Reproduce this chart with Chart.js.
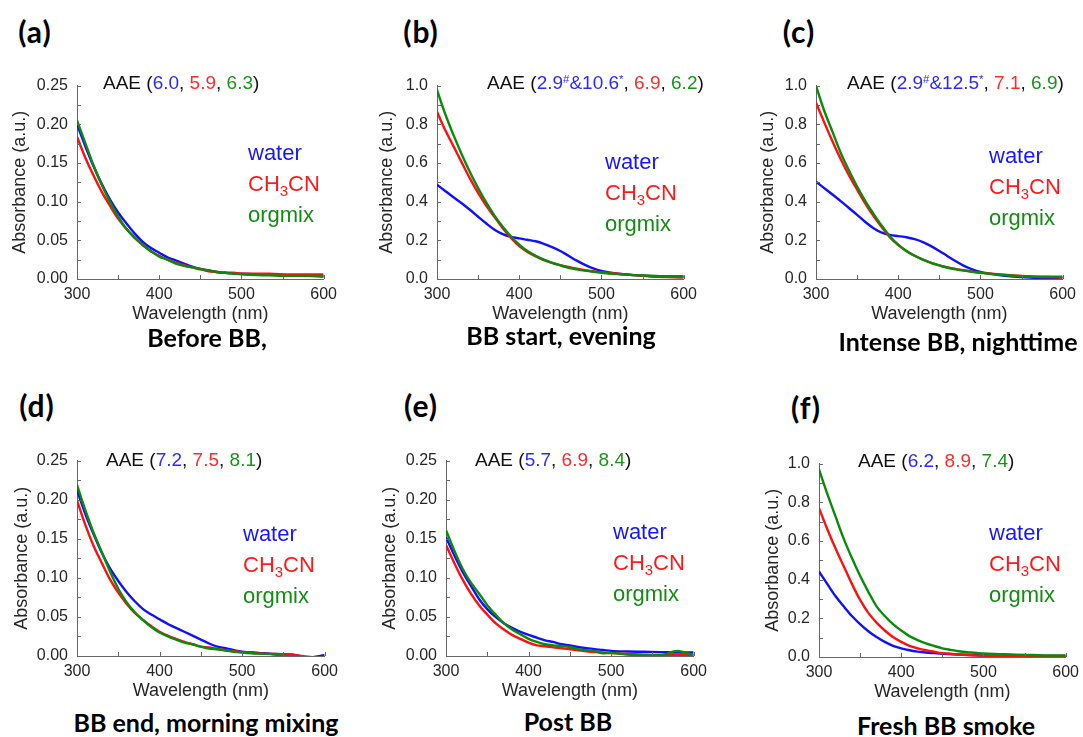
<!DOCTYPE html>
<html>
<head>
<meta charset="utf-8">
<script src="https://cdn.jsdelivr.net/npm/chart.js@4.4.0/dist/chart.umd.min.js"></script>
<style>
html, body { margin: 0; padding: 0; background: #fff; }
#fig { position: relative; width: 1083px; height: 737px; overflow: hidden; font-family: "Liberation Sans", Arial, sans-serif; }
canvas { position: absolute; }
.lab { position: absolute; width: 70px; text-align: center; font: 700 30px/30px Lato, sans-serif; letter-spacing: 1px; color: #000; }
.ttl { position: absolute; width: 360px; text-align: center; font: 700 25px/30px Lato, sans-serif; color: #000; white-space: nowrap; }
.aae { position: absolute; font-size: 19px; line-height: 19px; color: #111; white-space: nowrap; }
.leg { position: absolute; font-size: 22px; line-height: 31px; white-space: nowrap; }
sub { font-size: 0.68em; vertical-align: -0.32em; line-height: 0; }
sup { font-size: 0.6em; vertical-align: 0.55em; line-height: 0; }
</style>
</head>
<body>
<div id="fig"></div>
<script>
// wavelength grid (nm)
const wavelength = [300,310,320,330,340,350,360,370,380,390,400,410,420,430,440,450,460,470,480,490,500,520,540,560,580,600];

// (a) Before BB
const aWater  = [.200,.172,.146,.123,.103,.086,.072,.059,.048,.040,.034,.028,.024,.020,.016,.013,.011,.009,.008,.007,.0067,.006,.0055,.005,.004,.003];
const aCH3CN  = [.184,.157,.134,.113,.095,.078,.065,.053,.044,.036,.030,.025,.021,.018,.015,.013,.010,.009,.008,.008,.007,.007,.0065,.006,.006,.006];
const aOrgmix = [.205,.176,.147,.122,.100,.081,.065,.054,.044,.036,.029,.025,.020,.017,.015,.0125,.011,.009,.008,.007,.006,.005,.0045,.004,.004,.004];

// (b) BB start, evening
const bWater  = [.487,.455,.423,.392,.358,.322,.287,.255,.232,.218,.210,.203,.195,.182,.165,.145,.120,.095,.073,.055,.042,.027,.020,.015,.012,.010];
const bCH3CN  = [.865,.770,.687,.603,.520,.445,.378,.320,.262,.212,.170,.140,.117,.098,.083,.072,.062,.053,.045,.040,.035,.027,.020,.013,.010,.008];
const bOrgmix = [.978,.853,.745,.645,.553,.470,.395,.328,.270,.220,.178,.145,.120,.100,.083,.070,.058,.050,.043,.037,.032,.025,.020,.017,.014,.015];

// (c) Intense BB, nighttime
const cWater  = [.503,.470,.437,.403,.367,.332,.295,.263,.240,.228,.222,.216,.206,.191,.170,.145,.118,.092,.068,.050,.037,.022,.012,.007,.005,.007];
const cCH3CN  = [.912,.810,.712,.620,.537,.462,.390,.325,.267,.215,.175,.145,.120,.100,.083,.070,.060,.052,.045,.038,.033,.025,.018,.013,.010,.008];
const cOrgmix = [.998,.870,.762,.653,.562,.478,.403,.337,.275,.220,.178,.145,.120,.100,.083,.070,.058,.050,.043,.037,.032,.023,.017,.013,.012,.012];

// (d) BB end, morning mixing
const dWater  = [.212,.182,.156,.132,.112,.096,.082,.070,.060,.053,.047,.041,.036,.031,.026,.021,.016,.012,.010,.0075,.0055,.004,.0025,.002,-.002,.001];
const dCH3CN  = [.199,.168,.141,.119,.098,.081,.067,.055,.046,.038,.031,.026,.022,.018,.015,.012,.011,.009,.0075,.006,.005,.0033,.0025,.0017,-.001,-.003];
const dOrgmix = [.219,.187,.158,.133,.108,.086,.069,.056,.046,.037,.030,.025,.021,.017,.015,.012,.0095,.0087,.007,.0054,.0045,.003,.002,-.001,-.003,-.003];

// (e) Post BB
const eWater  = [.152,.129,.108,.090,.073,.060,.050,.042,.036,.031,.027,.0235,.020,.018,.015,.0136,.0115,.010,.0087,.0078,.0066,.0058,.0054,.005,.0045,.0045];
const eCH3CN  = [.142,.119,.098,.080,.065,.053,.042,.034,.027,.022,.017,.0136,.0124,.011,.010,.0087,.0074,.006,.005,.0045,.0037,.0025,.0017,.0012,.0012,.001];
const eOrgmix = [.161,.135,.112,.094,.080,.065,.053,.042,.034,.028,.022,.018,.015,.0136,.0128,.0115,.0087,.0074,.0066,.0033,.004,.002,.001,.001,.0066,.001];

// (f) Fresh BB smoke
const fWater  = [.442,.378,.315,.262,.212,.170,.133,.103,.078,.058,.045,.035,.028,.023,.020,.017,.015,.013,.012,.010,.008,.007,.005,.005,.005,.005];
const fCH3CN  = [.770,.662,.562,.470,.378,.295,.228,.178,.137,.103,.078,.058,.045,.035,.027,.020,.017,.013,.010,.008,.007,.005,.0035,.003,.002,.002];
const fOrgmix = [.970,.845,.728,.612,.512,.420,.337,.262,.212,.170,.137,.108,.087,.070,.057,.045,.037,.030,.025,.022,.018,.015,.012,.010,.008,.008];

// tick values
const xTicks = [300, 400, 500, 600];
const yTicksSmall = [0, 0.05, 0.10, 0.15, 0.20, 0.25];
const yTicksLarge = [0, 0.2, 0.4, 0.6, 0.8, 1.0];

const panelLetters = ['(a)', '(b)', '(c)', '(d)', '(e)', '(f)'];
const panelTitles = ['Before BB,', 'BB start, evening', 'Intense BB, nighttime', 'BB end, morning mixing', 'Post BB', 'Fresh BB smoke'];
const aaeWater  = ['6.0', '2.9<sup>#</sup>&amp;10.6<sup>*</sup>', '2.9<sup>#</sup>&amp;12.5<sup>*</sup>', '7.2', '5.7', '6.2'];
const aaeCH3CN  = ['5.9', '6.9', '7.1', '7.5', '6.9', '8.9'];
const aaeOrgmix = ['6.3', '6.2', '6.9', '8.1', '8.4', '7.4'];
const seriesNames = ['water', 'CH<sub>3</sub>CN', 'orgmix'];

const seriesByPanel = [
  [aWater, aCH3CN, aOrgmix], [bWater, bCH3CN, bOrgmix], [cWater, cCH3CN, cOrgmix],
  [dWater, dCH3CN, dOrgmix], [eWater, eCH3CN, eOrgmix], [fWater, fCH3CN, fOrgmix]
];
const yTicksByPanel = [yTicksSmall, yTicksLarge, yTicksLarge, yTicksSmall, yTicksSmall, yTicksLarge];

// colours
const lineColors = ['#1010ff', '#ff1010', '#0b8a0b'];
const textColors = ['#1515ff', '#ff1a1a', '#138c13'];
const aaeColors  = ['#2b2bff', '#ff2a2a', '#1a931a'];

// page placement of each panel: plot box [left, top, width, height] etc.
const layout = [
  { plot: [77, 79, 250, 200],  yTitle: 20, lab: [35, 33],   ttl: [207, 322], aae: [103, 73],  leg: [248, 137] },
  { plot: [437, 79, 250, 200], yTitle: 27, lab: [421, 33],  ttl: [561, 320], aae: [487, 73],  leg: [605, 146] },
  { plot: [816, 79, 250, 200], yTitle: 29, lab: [799, 33],  ttl: [958, 326], aae: [847, 73],  leg: [989, 140] },
  { plot: [77, 454, 251, 202], yTitle: 22, lab: [37, 407],  ttl: [206, 707], aae: [106, 450], leg: [243, 518] },
  { plot: [446, 454, 251, 202], yTitle: 21, lab: [421, 407], ttl: [568, 706], aae: [475, 450], leg: [613, 516] },
  { plot: [819, 457, 250, 200], yTitle: 31, lab: [806, 409], ttl: [946, 710], aae: [858, 451], leg: [989, 517] }
];

const AXIS_W = 77, AXIS_H = 50, PAD_T = 12, PAD_R = 16;
const TITLE_SIZE = 18;
const axisColor = '#666';
const textColor = '#262626';
const fontFamily = '"Liberation Sans", Arial, sans-serif';

// small inward tick marks, Origin style
const inwardTicks = {
  id: 'inwardTicks',
  afterDraw(chart, args, opts) {
    const { ctx, chartArea, scales: { x, y } } = chart;
    ctx.save();
    ctx.strokeStyle = axisColor;
    ctx.lineWidth = 1;
    ctx.beginPath();
    for (let v = x.min; v <= x.max + 1e-9; v += opts.xStep) {
      const px = Math.round(x.getPixelForValue(v)) + 0.5;
      ctx.moveTo(px, chartArea.bottom);
      ctx.lineTo(px, chartArea.bottom - 4);
    }
    for (let v = y.min; v <= y.max + 1e-9; v += opts.yStep) {
      const py = Math.round(y.getPixelForValue(v)) + 0.5;
      ctx.moveTo(chartArea.left, py);
      ctx.lineTo(chartArea.left + 4, py);
    }
    ctx.stroke();
    ctx.restore();
  }
};

const fig = document.getElementById('fig');

function addDiv(cls, html, left, top) {
  const d = document.createElement('div');
  d.className = cls;
  d.innerHTML = html;
  d.style.left = left + 'px';
  d.style.top = top + 'px';
  fig.appendChild(d);
  return d;
}

layout.forEach((L, i) => {
  const [px, py, pw, ph] = L.plot;
  const yVals = yTicksByPanel[i];
  const yMax = yVals[yVals.length - 1];
  const dec = yMax < 0.5 ? 2 : 1;
  const halfLine = TITLE_SIZE * 1.2 / 2;

  const cv = document.createElement('canvas');
  cv.width = AXIS_W + pw + PAD_R;
  cv.height = PAD_T + ph + AXIS_H;
  cv.style.left = (px - AXIS_W) + 'px';
  cv.style.top = (py - PAD_T) + 'px';
  fig.appendChild(cv);

  const series = seriesByPanel[i];
  const datasets = series.map((vals, k) => ({
    label: ['water', 'CH3CN', 'orgmix'][k],
    data: wavelength.map((w, j) => ({ x: w, y: vals[j] })),
    borderColor: lineColors[k],
    borderWidth: 2.4,
    pointRadius: 0,
    cubicInterpolationMode: 'monotone',
    order: 3 - k
  }));

  new Chart(cv, {
    type: 'line',
    data: { datasets },
    options: {
      responsive: false,
      animation: false,
      devicePixelRatio: 1,
      layout: { padding: { top: PAD_T, right: PAD_R, left: 0, bottom: 0 } },
      plugins: {
        legend: { display: false },
        tooltip: { enabled: false },
        inwardTicks: { xStep: 50, yStep: yMax / 10 }
      },
      scales: {
        x: {
          type: 'linear',
          min: 300,
          max: 600,
          afterBuildTicks: s => { s.ticks = xTicks.map(v => ({ value: v })); },
          afterFit: s => { s.height = AXIS_H; },
          grid: { display: false, drawTicks: false },
          border: { display: true, color: axisColor, width: 1 },
          ticks: { padding: 6, color: textColor, font: { size: 16, family: fontFamily }, maxRotation: 0, autoSkip: false },
          title: { display: true, text: 'Wavelength (nm)', color: textColor,
                   font: { size: TITLE_SIZE, family: fontFamily, lineHeight: 1.2 }, padding: { top: 0, bottom: 15 - halfLine } }
        },
        y: {
          min: 0,
          max: yMax,
          afterBuildTicks: s => { s.ticks = yVals.map(v => ({ value: v })); },
          afterFit: s => { s.width = AXIS_W; },
          grid: { display: false, drawTicks: false },
          border: { display: true, color: axisColor, width: 1 },
          ticks: { padding: 9, color: textColor, font: { size: 16, family: fontFamily },
                   callback: v => Number(v).toFixed(dec) },
          title: { display: true, text: 'Absorbance (a.u.)', color: textColor,
                   font: { size: TITLE_SIZE, family: fontFamily, lineHeight: 1.2 }, padding: { top: L.yTitle - halfLine, bottom: 0 } }
        }
      }
    },
    plugins: [inwardTicks]
  });

  // panel letter
  addDiv('lab', panelLetters[i], L.lab[0] - 35, L.lab[1] - 17);
  // panel title
  addDiv('ttl', panelTitles[i], L.ttl[0] - 180, L.ttl[1]);
  // AAE annotation
  const aae = 'AAE (' +
    '<span style="color:' + aaeColors[0] + '">' + aaeWater[i] + '</span>, ' +
    '<span style="color:' + aaeColors[1] + '">' + aaeCH3CN[i] + '</span>, ' +
    '<span style="color:' + aaeColors[2] + '">' + aaeOrgmix[i] + '</span>)';
  addDiv('aae', aae, L.aae[0], L.aae[1]);
  // series key
  const leg = seriesNames.map((n, k) => '<div style="color:' + textColors[k] + '">' + n + '</div>').join('');
  addDiv('leg', leg, L.leg[0], L.leg[1]);
});
</script>
</body>
</html>
